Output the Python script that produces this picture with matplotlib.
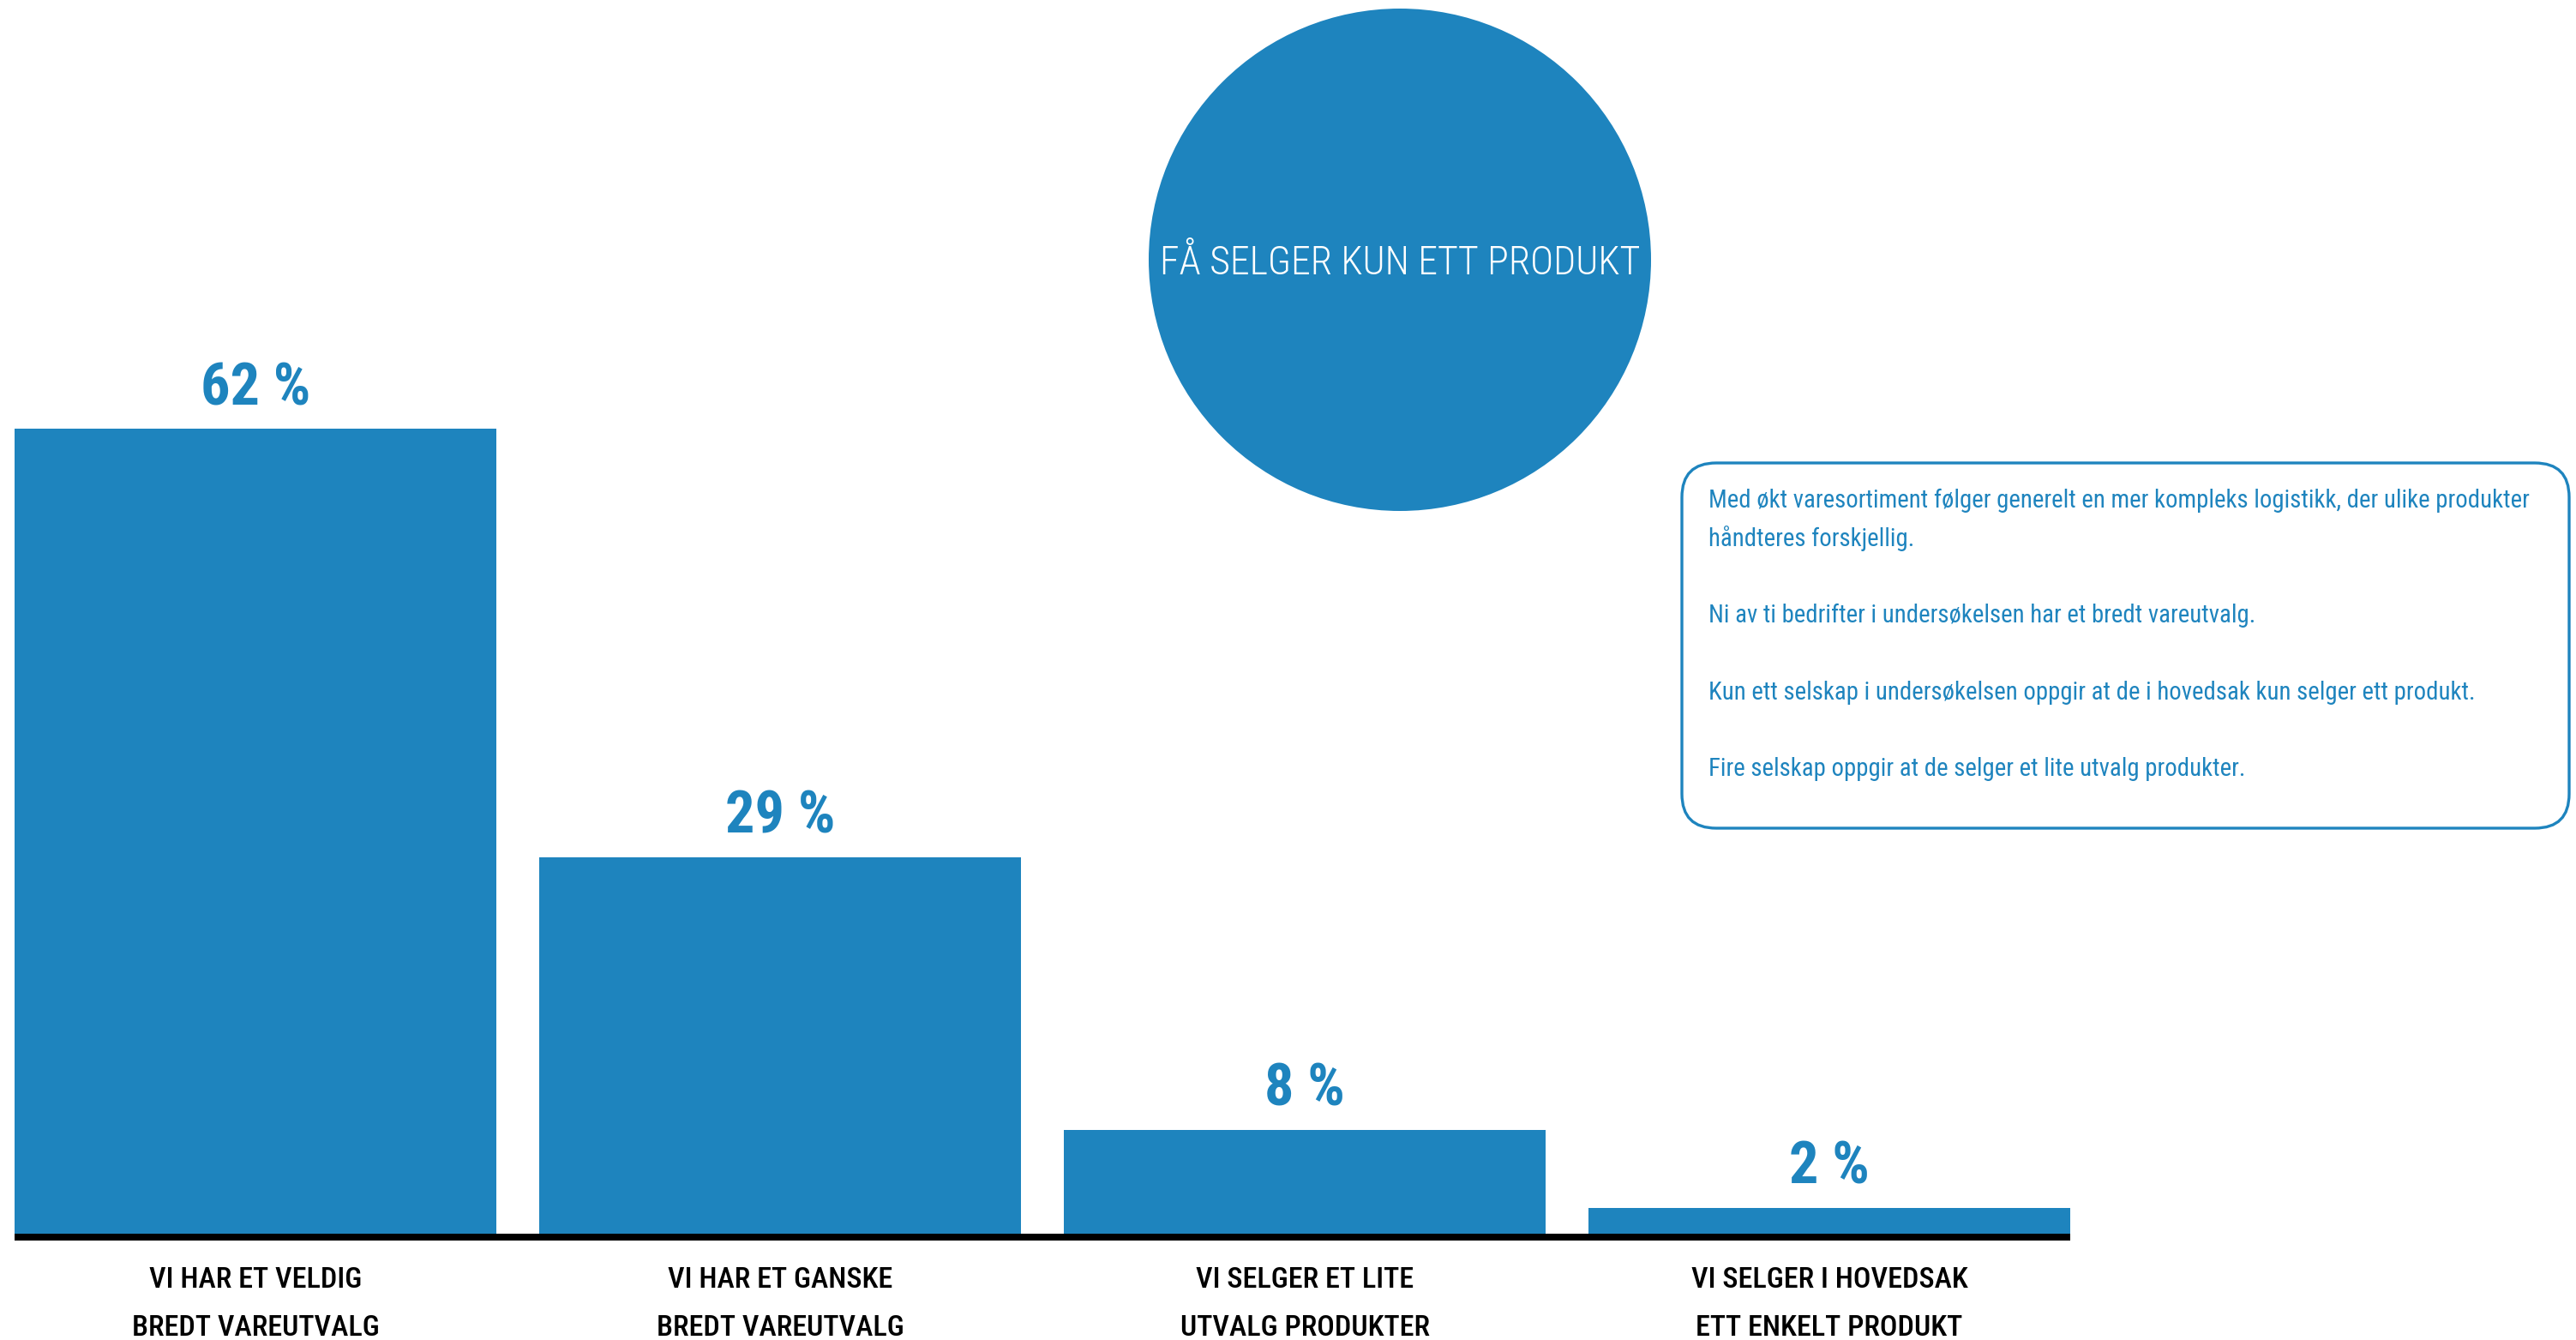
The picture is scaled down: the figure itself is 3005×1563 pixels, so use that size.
import matplotlib
matplotlib.use("Agg")
import matplotlib.pyplot as plt
from matplotlib.patches import Circle, FancyBboxPatch

# --- data -------------------------------------------------------------
categories = [
    "VI HAR ET VELDIG\nBREDT VAREUTVALG",
    "VI HAR ET GANSKE\nBREDT VAREUTVALG",
    "VI SELGER ET LITE\nUTVALG PRODUKTER",
    "VI SELGER I HOVEDSAK\nETT ENKELT PRODUKT",
]
shares = [62, 29, 8, 2]
value_labels = [f"{v} %" for v in shares]
headline = "FÅ SELGER KUN ETT PRODUKT"
notes = [
    "Med økt varesortiment følger generelt en mer kompleks logistikk, der ulike produkter",
    "håndteres forskjellig.",
    "",
    "Ni av ti bedrifter i undersøkelsen har et bredt vareutvalg.",
    "",
    "Kun ett selskap i undersøkelsen oppgir at de i hovedsak kun selger ett produkt.",
    "",
    "Fire selskap oppgir at de selger et lite utvalg produkter.",
]

# --- style ------------------------------------------------------------
BLUE = "#1e84be"
FONT = "Roboto Condensed"
W, H, DPI = 3005, 1563, 100
CAP = 0.711  # cap height of the face, in em


def inch(px):
    return px / DPI


fig = plt.figure(figsize=(W / DPI, H / DPI), dpi=DPI)
fig.patch.set_facecolor("white")
renderer = fig.canvas.get_renderer()


def fit(texts, sample, target_w, target_cap=None, w_weight=1.0):
    """Scale a group of texts so that `sample` gets roughly the given pixel
    width, optionally blended with the size giving a target cap height."""
    w = sample.get_window_extent(renderer).width
    s = sample.get_fontsize()
    size = s * target_w / w
    if target_cap is not None:
        size_h = target_cap / CAP * 72 / DPI
        size = size ** w_weight * size_h ** (1 - w_weight)
    for t in texts:
        t.set_fontsize(size)


# --- bar chart --------------------------------------------------------
base_px = 1439          # baseline, pixels from top
px_per_pct = 15.145
top_px = 60
ax_h = base_px - top_px
ax = fig.add_axes([17 / W, (H - base_px) / H, 2398 / W, ax_h / H])
x = range(len(shares))
ax.bar(x, shares, width=0.918, color=BLUE, zorder=2)
ax.set_xlim(-0.459, len(shares) - 1 + 0.459)
ax.set_ylim(0, ax_h / px_per_pct)
for side in ("top", "right", "left"):
    ax.spines[side].set_visible(False)
bottom = ax.spines["bottom"]
bottom.set_linewidth(8 * 72 / DPI)
bottom.set_color("black")
bottom.set_capstyle("butt")
bottom.set_position(("outward", 4 * 72 / DPI))
ax.set_xticks([])
ax.set_yticks([])
ax.patch.set_alpha(0)

vals = []
for i, (v, lab) in enumerate(zip(shares, value_labels)):
    vals.append(ax.annotate(lab, (i, v), xytext=(0, 28), textcoords="offset pixels",
                            ha="center", va="baseline", color=BLUE,
                            family=FONT, fontweight="bold", fontsize=40,
                            annotation_clip=False))
fit(vals, vals[0], 121, 53, 0.6)

cats = []
for i, cat in enumerate(categories):
    for j, line in enumerate(cat.split("\n")):
        cats.append(ax.annotate(line, (i, 0), xytext=(0, -63 - 56 * j),
                                textcoords="offset pixels", ha="center",
                                va="baseline", color="black", family=FONT,
                                fontweight="medium", fontsize=30,
                                annotation_clip=False))
fit(cats, cats[1], 265, 32, 0.75)

# --- headline bubble --------------------------------------------------
cx, cy, r = 1633, 303, 293
fig.add_artist(Circle((inch(cx), inch(H - cy)), inch(r),
                      transform=fig.dpi_scale_trans, facecolor=BLUE,
                      edgecolor="none"))
head = fig.text(cx / W, (H - cy) / H, headline, ha="center",
                va="center_baseline", color="white", family=FONT,
                fontweight="light", fontsize=36)
fit([head], head, 540, 40, 0.85)

# --- note box ---------------------------------------------------------
bx0, bx1, by0, by1 = 1962, 2997, 540, 966
fig.add_artist(FancyBboxPatch((inch(bx0), inch(H - by1)), inch(bx1 - bx0),
                              inch(by1 - by0),
                              boxstyle=f"round,pad=0,rounding_size={inch(40)}",
                              transform=fig.dpi_scale_trans, facecolor="white",
                              edgecolor=BLUE, linewidth=2.4))
note_texts = []
for k, line in enumerate(notes):
    note_texts.append(fig.text(1993 / W, (H - (592 + 44.7 * k)) / H, line,
                               ha="left", va="baseline", color=BLUE,
                               family=FONT, fontsize=20))
fit(note_texts, note_texts[0], 953)

fig.savefig("out.png", dpi=DPI)
